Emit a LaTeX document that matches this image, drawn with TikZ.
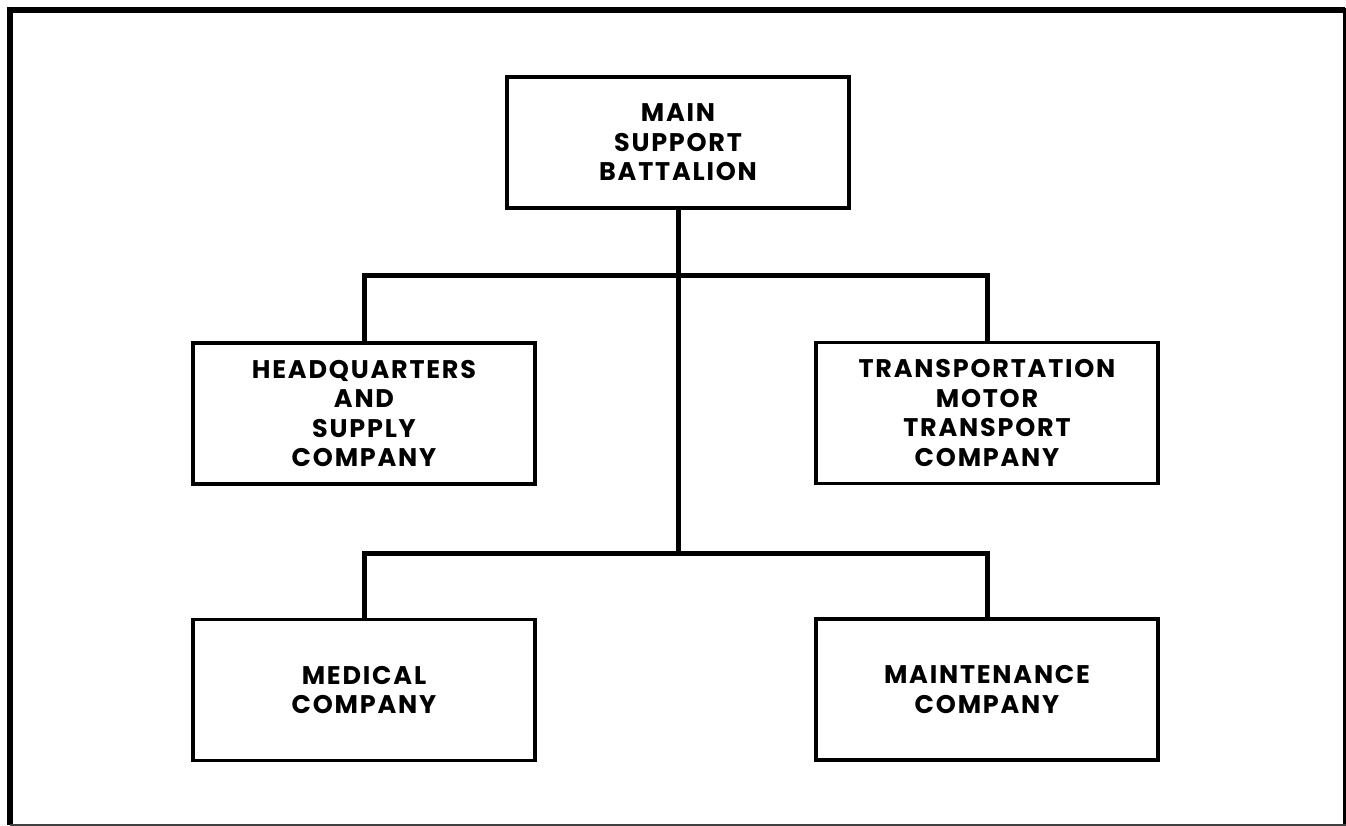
\documentclass[tikz,border=0pt]{standalone}
\usepackage{fontspec}
\newfontfamily\orgfont{Poppins}[LetterSpace=7]
\begin{document}
\begin{tikzpicture}[x=1pt,y=-1pt,
  unitbox/.style={draw, line width=3.5pt, minimum width=342pt, minimum height=141pt,
    align=center, inner sep=0pt,
    font=\orgfont\bfseries\fontsize{25.5}{29.5}\selectfont},
  link/.style={line width=5pt, line join=miter},
  framethick/.style={line width=6pt, line join=miter},
]
\useasboundingbox (0,0) rectangle (1346,826);

% outer frame
\draw[framethick] (10,825) -- (10,10) -- (1344.5,10);
\draw[line width=3pt] (1344.5,8) -- (1344.5,825);
\draw[line width=2pt, black!75] (10,825) -- (1346,825);

% units
\node[unitbox, minimum height=131pt] (msb) at (678,142.5) {MAIN\\SUPPORT\\BATTALION};
\node[unitbox] (hqs) at (364,413.5) {HEADQUARTERS\\AND\\SUPPLY\\COMPANY};
\node[unitbox] (tmt) at (987,413) {TRANSPORTATION\\MOTOR\\TRANSPORT\\COMPANY};
\node[unitbox] (med) at (364,690) {MEDICAL\\COMPANY};
\node[unitbox] (mnt) at (987,689.5) {MAINTENANCE\\COMPANY};

% branch junctions on the trunk
\coordinate (busA) at (678,276);
\coordinate (busB) at (678,553);

% connectors
\draw[link] (msb.south) -- (busB);
\draw[link] (hqs.north) |- (busA) -| (tmt.north);
\draw[link] (med.north) |- (busB) -| (mnt.north);
\end{tikzpicture}
\end{document}
